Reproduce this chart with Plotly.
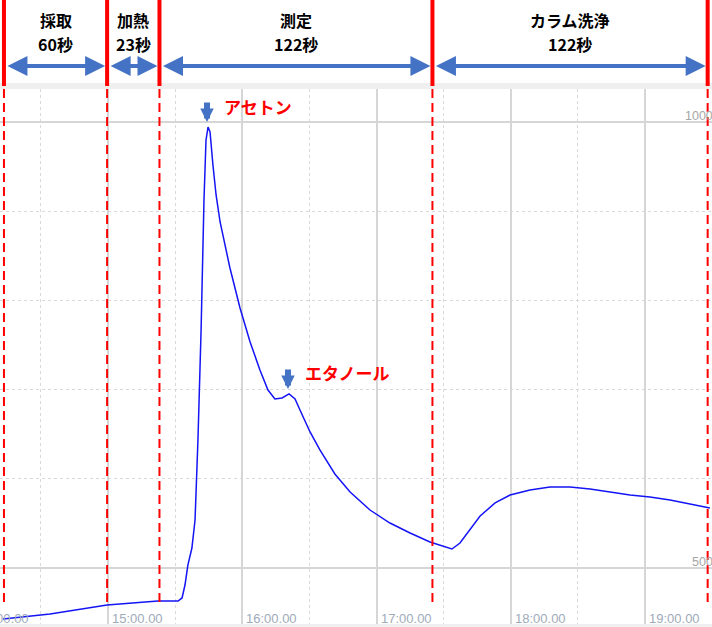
import plotly.graph_objects as go

# ---------------- data ----------------
# elapsed time (seconds, 15:00.00 = 900 s) and detector signal
time_s = [853.1, 874.1, 899.6, 909.8, 922.3, 931.3, 933.1, 934.4, 935.7, 937.5,
          938.9, 940.2, 941.6, 942.9, 943.8, 944.7, 945.6, 946.9, 948.3, 950.1,
          954.5, 959.0, 963.5, 967.9, 971.5, 974.6, 977.8, 980.9, 983.6, 985.8,
          990.3, 994.7, 1001.4, 1008.2, 1017.1, 1026.0, 1035.0, 1043.9, 1050.6, 1053.7,
          1057.3, 1061.8, 1066.3, 1073.0, 1079.7, 1088.6, 1097.5, 1106.5, 1115.4, 1124.4,
          1133.3, 1142.2, 1151.2, 1160.1, 1169.0]
signal = [442.8, 448.4, 458.5, 460.7, 463.0, 463.0, 466.4, 480.9, 503.3, 522.4,
          553.8, 643.5, 766.8, 912.6, 979.8, 994.4, 988.8, 951.8, 918.2, 887.9,
          836.3, 791.5, 753.4, 721.9, 699.5, 689.5, 690.6, 695.1, 689.5, 677.1,
          652.5, 632.3, 605.4, 585.2, 565.0, 550.4, 539.2, 529.1, 523.5, 521.3,
          528.0, 543.7, 558.3, 572.9, 581.8, 587.4, 590.8, 590.8, 588.6, 585.2,
          581.8, 579.6, 576.2, 571.7, 567.3]

# x tick labels (mm:ss.ss)
tick_times = [840, 900, 960, 1020, 1080, 1140]
tick_labels = ["14:00.00", "15:00.00", "16:00.00", "17:00.00", "18:00.00", "19:00.00"]
ytick_vals = [500, 1000]
ytick_labels = ["500", "1000"]

# phases
phase_bounds = [853.5, 899.6, 923.0, 1045.0, 1168.0]
phase_names = ["採取", "加熱", "測定", "カラム洗浄"]
phase_secs = ["60秒", "23秒", "122秒", "122秒"]

# peak labels
peak_names = ["アセトン", "エタノール"]
peak_times = [944.7, 980.9]
peak_values = [994.4, 695.1]

# ---------------- layout constants ----------------
W, H = 712, 627
TOP, BOT = 89, 3
X0, X1 = 851.73, 1169.94
Y0, Y1 = 437.2, 1037.0
PH = H - TOP - BOT


def px2paper_y(py):
    return (H - BOT - py) / PH


def t2paper(t):
    return (t - X0) / (X1 - X0)


RED = "#ff0000"
BLUE_ARROW = "#4472c4"
JP = "Noto Sans CJK JP"

fig = go.Figure()
fig.add_trace(go.Scatter(x=time_s, y=signal, mode="lines",
                         line=dict(color="#1414f5", width=1.5),
                         hoverinfo="skip", showlegend=False))

shapes = []
annotations = []

# gray bands
shapes.append(dict(type="rect", xref="paper", yref="paper", x0=0, x1=1,
                   y0=1, y1=px2paper_y(83), fillcolor="#efefef", line_width=0, layer="below"))
shapes.append(dict(type="rect", xref="paper", yref="paper", x0=0, x1=1,
                   y0=0, y1=px2paper_y(H), fillcolor="#efefef", line_width=0, layer="below"))

# red phase lines
for b in phase_bounds:
    shapes.append(dict(type="line", xref="paper", yref="paper", x0=t2paper(b), x1=t2paper(b),
                       y0=px2paper_y(86), y1=px2paper_y(0), line=dict(color=RED, width=4)))
    shapes.append(dict(type="line", xref="x", yref="y", x0=b, x1=b,
                       y0=Y1, y1=Y1 - (607 - TOP) * (Y1 - Y0) / PH,
                       line=dict(color=RED, width=2, dash="9px,5px")))

# double arrows and phase labels
for i in range(4):
    a, b = phase_bounds[i], phase_bounds[i + 1]
    annotations.append(dict(xref="x", yref="paper", x=b, y=px2paper_y(66),
                            axref="x", ayref="pixel", ax=a, ay=0, text="",
                            showarrow=True, arrowside="end+start",
                            arrowhead=2, startarrowhead=2, arrowsize=1.0, startarrowsize=1.0,
                            arrowwidth=4, arrowcolor=BLUE_ARROW, standoff=2, startstandoff=2))
    mid = (a + b) / 2
    annotations.append(dict(xref="x", yref="paper", x=mid, y=px2paper_y(20),
                            text=phase_names[i], showarrow=False, xanchor="center", yanchor="middle",
                            font=dict(family=JP, size=16, color="#000000", weight=700)))
    annotations.append(dict(xref="x", yref="paper", x=mid, y=px2paper_y(44),
                            text=phase_secs[i], showarrow=False, xanchor="center", yanchor="middle",
                            font=dict(family=JP, size=16, color="#000000", weight=700)))

# x tick labels
for t, lab in zip(tick_times, tick_labels):
    annotations.append(dict(xref="paper", yref="paper", x=t2paper(t), y=px2paper_y(618),
                            text=lab, showarrow=False, xanchor="left", yanchor="middle", xshift=2,
                            font=dict(family="Liberation Sans", size=13, color="#9eabb9")))
# y tick labels
for v, lab in zip(ytick_vals, ytick_labels):
    annotations.append(dict(xref="paper", yref="y", x=1, y=v, text=lab, showarrow=False,
                            xanchor="right", yanchor="bottom", xshift=3, yshift=-3,
                            font=dict(family="Liberation Sans", size=12.5, color="#a6a6a6")))

# peak markers
for name, t, v in zip(peak_names, peak_times, peak_values):
    annotations.append(dict(xref="x", yref="y", x=t, y=v, text="", showarrow=True,
                            ax=0, ay=-21, yshift=5, xshift=-1, arrowhead=2, arrowsize=0.45,
                            arrowwidth=6, arrowcolor=BLUE_ARROW, standoff=0))
    annotations.append(dict(xref="x", yref="y", x=t, y=v, text="<b>" + name + "</b>",
                            showarrow=False, xanchor="left", yanchor="middle",
                            xshift=14, yshift=21,
                            font=dict(family=JP, size=17, color=RED)))

fig.update_layout(
    width=W, height=H,
    margin=dict(l=0, r=0, t=TOP, b=BOT, pad=0),
    paper_bgcolor="white", plot_bgcolor="white",
    showlegend=False,
    shapes=shapes, annotations=annotations,
    xaxis=dict(range=[X0, X1], tick0=0, dtick=60, showticklabels=False, ticks="",
               showgrid=True, gridcolor="#d6d6d6", gridwidth=2, zeroline=False, showline=False,
               minor=dict(dtick=30, showgrid=True, gridcolor="#d9d9d9", griddash="dot", gridwidth=1)),
    yaxis=dict(range=[Y0, Y1], tick0=0, dtick=500, showticklabels=False, ticks="",
               showgrid=True, gridcolor="#d6d6d6", gridwidth=2, zeroline=False, showline=False,
               minor=dict(dtick=100, showgrid=True, gridcolor="#d9d9d9", griddash="dot", gridwidth=1)),
)

fig.write_html("out.html", config={"displayModeBar": False},
               post_script="document.body.style.margin='0px';")
